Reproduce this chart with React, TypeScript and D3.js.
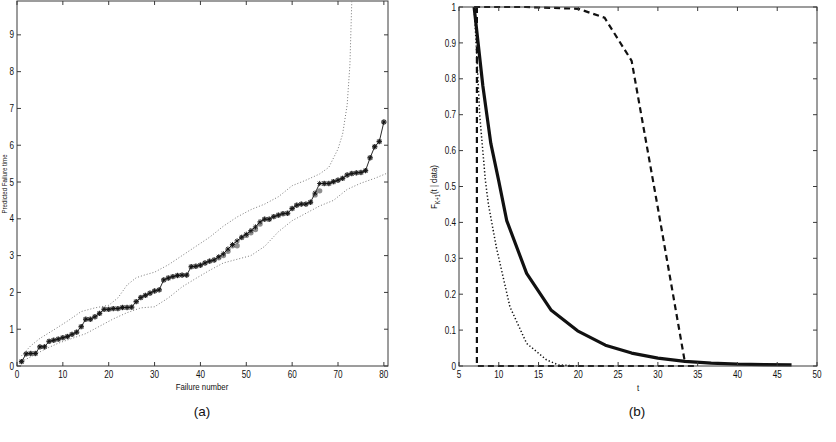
import React from 'react'
import * as d3 from 'd3'

// Panel (a): predicted failure times for failures 1..80
const predicted = [
  0.12, 0.33, 0.34, 0.34, 0.52, 0.52, 0.67, 0.70, 0.73, 0.77,
  0.80, 0.86, 0.92, 1.07, 1.27, 1.27, 1.34, 1.43, 1.54, 1.54,
  1.56, 1.56, 1.59, 1.59, 1.60, 1.75, 1.86, 1.92, 1.98, 2.04,
  2.07, 2.34, 2.39, 2.43, 2.46, 2.47, 2.47, 2.70, 2.71, 2.74,
  2.80, 2.85, 2.88, 2.97, 3.05, 3.18, 3.30, 3.40, 3.50, 3.58,
  3.68, 3.78, 3.92, 3.99, 3.99, 4.06, 4.10, 4.14, 4.15, 4.28,
  4.37, 4.40, 4.40, 4.45, 4.70, 4.96, 4.96, 4.96, 5.01, 5.05,
  5.10, 5.19, 5.23, 5.25, 5.26, 5.31, 5.66, 5.96, 6.10, 6.63,
]

const observed = [
  0.12, 0.33, 0.34, 0.34, 0.52, 0.52, 0.67, 0.70, 0.73, 0.77,
  0.80, 0.86, 0.92, 1.07, 1.27, 1.27, 1.34, 1.43, 1.54, 1.54,
  1.56, 1.56, 1.59, 1.59, 1.60, 1.75, 1.86, 1.92, 1.98, 2.04,
  2.07, 2.34, 2.39, 2.43, 2.46, 2.47, 2.47, 2.70, 2.71, 2.74,
  2.80, 2.85, 2.88, 2.94, 3.00, 3.12, 3.27, 3.27, 3.49, 3.55,
  3.62, 3.71, 3.86, 3.99, 3.99, 4.06, 4.10, 4.14, 4.15, 4.28,
  4.37, 4.40, 4.40, 4.45, 4.65, 4.76, 4.96, 4.96, 5.01, 5.05,
  5.10, 5.19, 5.23, 5.25, 5.26, 5.31, 5.66, 5.96, 6.10, 6.63,
]

const upperN = [1, 3, 5, 8, 11, 14, 17, 20, 22, 24, 26, 28, 30, 33, 36, 39, 42, 45, 48, 51, 54, 57, 60, 63, 66, 68, 70, 71, 72, 72.6, 73]
const upperV = [0.28, 0.55, 0.75, 0.98, 1.22, 1.48, 1.58, 1.65, 1.85, 2.2, 2.4, 2.48, 2.55, 2.75, 3.0, 3.25, 3.5, 3.8, 4.05, 4.25, 4.4, 4.6, 4.9, 5.05, 5.22, 5.4, 5.9, 6.3, 7.1, 8.2, 9.9]

const lowerN = [1, 3, 6, 9, 12, 15, 18, 21, 24, 27, 30, 33, 36, 39, 42, 45, 48, 51, 54, 57, 60, 63, 66, 69, 72, 75, 78, 80.9]
const lowerV = [0.12, 0.25, 0.45, 0.62, 0.75, 0.88, 1.08, 1.28, 1.45, 1.58, 1.61, 1.85, 2.15, 2.38, 2.6, 2.8, 2.9, 3.0, 3.25, 3.65, 3.95, 4.15, 4.35, 4.5, 4.8, 4.97, 5.1, 5.25]

const xTicksA = [0, 10, 20, 30, 40, 50, 60, 70, 80]
const yTicksA = [0, 1, 2, 3, 4, 5, 6, 7, 8, 9]

// Panel (b): F_{K+1}(t | data) curves
const solidT = [6.9, 8.0, 9.0, 10.0, 11.0, 13.5, 16.6, 19.9, 23.4, 26.7, 30.0, 33.4, 36.7, 40.0, 43.4, 46.8]
const solidF = [1.0, 0.78, 0.62, 0.515, 0.405, 0.258, 0.155, 0.098, 0.058, 0.036, 0.022, 0.013, 0.008, 0.005, 0.004, 0.003]

const dottedT = [6.9, 7.2, 7.6, 8.3, 8.7, 9.7, 11.4, 13.5, 16.0, 17.5, 20.0]
const dottedF = [1.0, 0.88, 0.70, 0.52, 0.45, 0.33, 0.165, 0.063, 0.017, 0.003, 0.0]

const stepT = [7.25, 7.25, 35.0]
const stepF = [1.0, 0.0, 0.0]

const upperT = [6.9, 13.4, 20.0, 23.3, 26.7, 30.0, 33.4]
const upperF = [1.0, 1.0, 0.995, 0.97, 0.85, 0.44, 0.01]

const xTicksB = [5, 10, 15, 20, 25, 30, 35, 40, 45, 50]
const yTicksB = [0, 0.1, 0.2, 0.3, 0.4, 0.5, 0.6, 0.7, 0.8, 0.9, 1]

const FONT = '"Liberation Sans", Arial, Helvetica, sans-serif'
const AXIS = '#3a3a3a'
const SQUEEZE = 0.8
const TICK = 4

type Pt = [number, number]
const zip = (a: number[], b: number[]): Pt[] => a.map((v, i) => [v, b[i]])

function Label({ x, y, anchor = 'middle', size = 10.2, children }: { x: number; y: number; anchor?: string; size?: number; children: React.ReactNode }) {
  return (
    <text
      transform={`translate(${x},${y}) scale(${SQUEEZE},1)`}
      textAnchor={anchor}
      fontSize={size}
      fontFamily={FONT}
      fill="#111"
    >
      {children}
    </text>
  )
}

function Frame({ x, y, xTicks, yTicks, fmtY }: {
  x: d3.ScaleLinear<number, number>
  y: d3.ScaleLinear<number, number>
  xTicks: number[]
  yTicks: number[]
  fmtY: (v: number) => string
}) {
  const [x0, x1] = x.range()
  const [y0, y1] = y.range()
  return (
    <g>
      <rect x={x0} y={y1} width={x1 - x0} height={y0 - y1} fill="none" stroke={AXIS} strokeWidth={1} />
      {xTicks.map(t => (
        <g key={`x${t}`}>
          <line x1={x(t)} x2={x(t)} y1={y0} y2={y0 - TICK} stroke={AXIS} />
          <line x1={x(t)} x2={x(t)} y1={y1} y2={y1 + TICK} stroke={AXIS} />
          <Label x={x(t)} y={y0 + 12}>{String(t)}</Label>
        </g>
      ))}
      {yTicks.map(t => (
        <g key={`y${t}`}>
          <line x1={x0} x2={x0 + TICK} y1={y(t)} y2={y(t)} stroke={AXIS} />
          <line x1={x1} x2={x1 - TICK} y1={y(t)} y2={y(t)} stroke={AXIS} />
          <Label x={x0 - 3} y={y(t) + 3.6} anchor="end">{fmtY(t)}</Label>
        </g>
      ))}
    </g>
  )
}

export default function App() {
  // panel (a) scales
  const xA = d3.scaleLinear().domain([0, 80.9]).range([17, 388])
  const yA = d3.scaleLinear().domain([0, 9.92]).range([366, 1])
  const lineA = d3.line<Pt>().x(d => xA(d[0])).y(d => yA(d[1]))

  // panel (b) scales
  const xB = d3.scaleLinear().domain([5, 50]).range([459, 817])
  const yB = d3.scaleLinear().domain([0, 1]).range([366, 7])
  const lineB = d3.line<Pt>().x(d => xB(d[0])).y(d => yB(d[1]))

  const predPts: Pt[] = predicted.map((v, i) => [i + 1, v])
  const obsPts: Pt[] = observed.map((v, i) => [i + 1, v])

  const star = (cx: number, cy: number, r: number) => {
    const s = r * 0.707
    return `M${cx - r},${cy}H${cx + r}M${cx},${cy - r}V${cy + r}` +
      `M${cx - s},${cy - s}L${cx + s},${cy + s}M${cx - s},${cy + s}L${cx + s},${cy - s}`
  }

  const clipA = `M${xA.range()[0]},${yA.range()[1]}H${xA.range()[1]}V${yA.range()[0]}H${xA.range()[0]}Z`

  return (
    <svg
      width={836}
      height={442}
      style={{ position: 'absolute', left: 0, top: 0, background: '#fff' }}
    >
      <defs>
        <clipPath id="clipA"><path d={clipA} /></clipPath>
      </defs>

      {/* (a) predicted failure times with bounds */}
      <g clipPath="url(#clipA)">
        <path d={lineA(zip(upperN, upperV)) ?? ''} fill="none" stroke="#7a7a7a" strokeWidth={1} strokeDasharray="1,2" />
        <path d={lineA(zip(lowerN, lowerV)) ?? ''} fill="none" stroke="#7a7a7a" strokeWidth={1} strokeDasharray="1,2" />
        {obsPts.map(([n, v]) => (
          <circle key={`o${n}`} cx={xA(n)} cy={yA(v)} r={2.7} fill="#8f8f8f" />
        ))}
        <path d={lineA(predPts) ?? ''} fill="none" stroke="#111" strokeWidth={0.9} />
        {predPts.map(([n, v]) => (
          <path key={`s${n}`} d={star(xA(n), yA(v), 2.6)} stroke="#111" strokeWidth={0.9} fill="none" />
        ))}
      </g>
      <Frame x={xA} y={yA} xTicks={xTicksA} yTicks={yTicksA} fmtY={v => String(v)} />
      <Label x={202} y={390} size={9.8}>Failure number</Label>
      <g transform="translate(7.4,184) rotate(-90)">
        <Label x={0} y={0} size={7.6}>Predicted Failure time</Label>
      </g>
      <text x={202} y={416} textAnchor="middle" fontSize={13.5} fontFamily={FONT} fill="#111">(a)</text>

      {/* (b) predictive distribution curves */}
      <path d={lineB(zip(dottedT, dottedF)) ?? ''} fill="none" stroke="#111" strokeWidth={1.5} strokeDasharray="1.3,2.2" />
      <path d={lineB(zip(stepT, stepF)) ?? ''} fill="none" stroke="#111" strokeWidth={2.2} strokeDasharray="6,4" />
      <path d={lineB(zip(upperT, upperF)) ?? ''} fill="none" stroke="#111" strokeWidth={2.2} strokeDasharray="6,4" />
      <path d={lineB(zip(solidT, solidF)) ?? ''} fill="none" stroke="#111" strokeWidth={3.2} strokeLinejoin="round" />
      <Frame x={xB} y={yB} xTicks={xTicksB} yTicks={yTicksB} fmtY={d3.format('~g')} />
      <Label x={638} y={391} size={9.8}>t</Label>
      <g transform="translate(437,187) rotate(-90)">
        <text transform={`scale(${SQUEEZE},1)`} textAnchor="middle" fontSize={9.8} fontFamily={FONT} fill="#111">
          F<tspan fontSize={7} dy={3}>K+1</tspan><tspan dy={-3}>(t | data)</tspan>
        </text>
      </g>
      <text x={637} y={416} textAnchor="middle" fontSize={13.5} fontFamily={FONT} fill="#111">(b)</text>
    </svg>
  )
}
